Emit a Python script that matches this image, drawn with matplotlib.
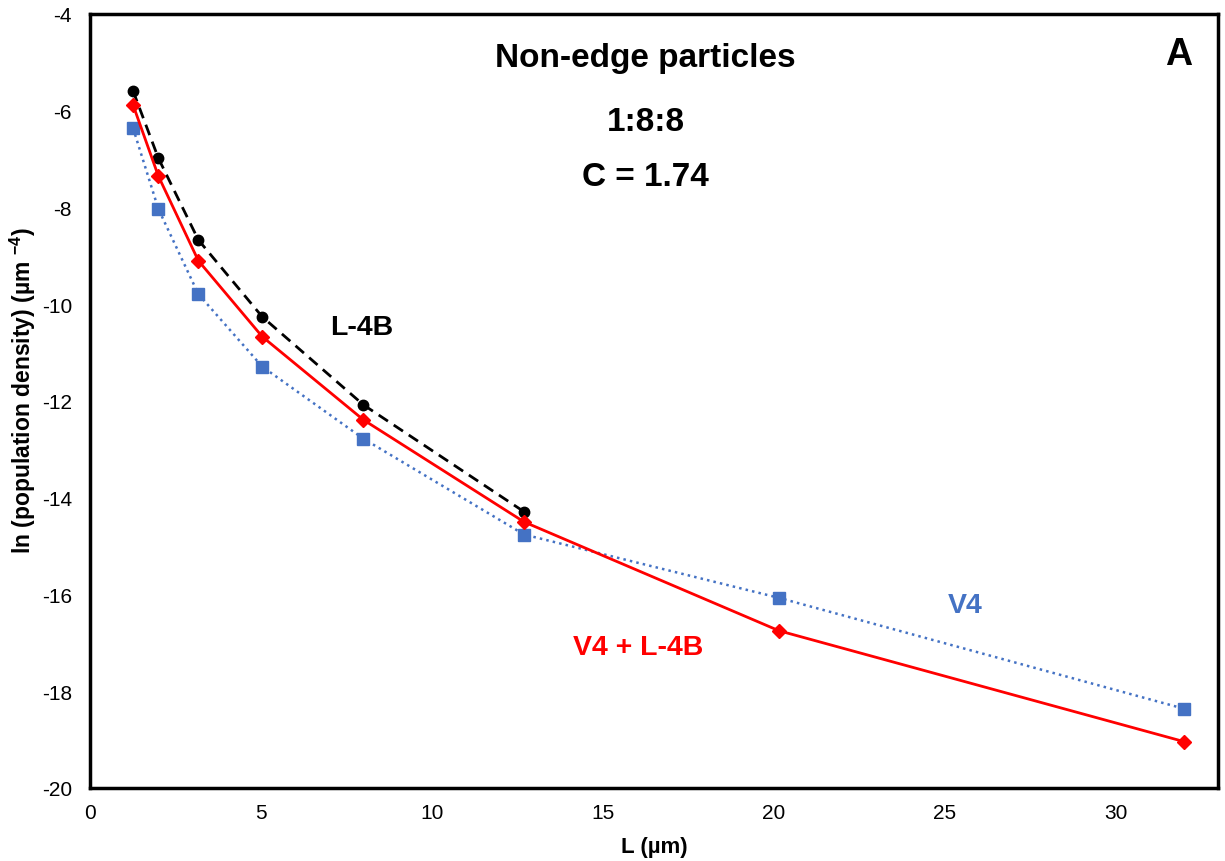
import matplotlib.pyplot as plt

plt.rcParams['font.family'] = ['Liberation Sans', 'DejaVu Sans']
plt.rcParams['axes.unicode_minus'] = False
plt.rcParams['mathtext.fontset'] = 'custom'
plt.rcParams['mathtext.rm'] = 'Liberation Sans:bold'
plt.rcParams['mathtext.it'] = 'Liberation Sans:bold'

L = [1.26, 2.0, 3.17, 5.04, 8.0, 12.7, 20.16, 32.0]
l4b = [-5.59, -6.98, -8.67, -10.26, -12.08, -14.29]
v4_l4b = [-5.88, -7.35, -9.10, -10.67, -12.39, -14.50, -16.75, -19.04]
v4 = [-6.36, -8.03, -9.79, -11.29, -12.78, -14.76, -16.07, -18.36]

x_ticks = [0, 5, 10, 15, 20, 25, 30]
y_ticks = [-20, -18, -16, -14, -12, -10, -8, -6, -4]

fig = plt.figure(figsize=(12.25, 8.62), dpi=100)
ax = fig.add_axes([90 / 1225, 1 - 789 / 862, (1218 - 90) / 1225, (789 - 15) / 862])

ax.plot(L, v4, color='#4472c4', linestyle=':', linewidth=1.8, marker='s', markersize=8.5)
ax.plot(L[:len(l4b)], l4b, color='black', linestyle=(0, (4, 2.5)), linewidth=2, marker='o', markersize=7.5)
ax.plot(L, v4_l4b, color='#ff0000', linestyle='-', linewidth=2, marker='D', markersize=7.5)

ax.set_xlim(0, 33)
ax.set_ylim(-20, -4)
ax.set_xticks(x_ticks)
ax.set_yticks(y_ticks)
ax.tick_params(axis='y', length=0, labelsize=15, pad=13)
ax.tick_params(axis='x', length=0, labelsize=15, pad=11)
for s in ax.spines.values():
    s.set_linewidth(2.5)

ax.set_xlabel('L (µm)', fontsize=16, fontweight='bold', labelpad=10)
ax.set_ylabel('ln (population density) (µm $^{-4}$)', fontsize=16.5, fontweight='bold')
ax.yaxis.set_label_coords(-0.046, 0.515)

ax.text(16.25, -4.89, 'Non-edge particles', fontsize=24, fontweight='bold', ha='center', va='center')
ax.text(16.25, -6.23, '1:8:8', fontsize=24, fontweight='bold', ha='center', va='center')
ax.text(16.25, -7.35, 'C = 1.74', fontsize=24, fontweight='bold', ha='center', va='center')
ax.text(31.85, -4.83, 'A', fontsize=27, fontweight='bold', ha='center', va='center')

ax.text(7.96, -10.47, 'L-4B', fontsize=20.5, fontweight='bold', ha='center', va='center')
ax.text(25.6, -16.21, 'V4', fontsize=20.5, fontweight='bold', color='#4472c4', ha='center', va='center')
ax.text(16.05, -17.08, 'V4 + L-4B', fontsize=20.5, fontweight='bold', color='#ff0000', ha='center', va='center')

fig.savefig('out.png', dpi=100)
